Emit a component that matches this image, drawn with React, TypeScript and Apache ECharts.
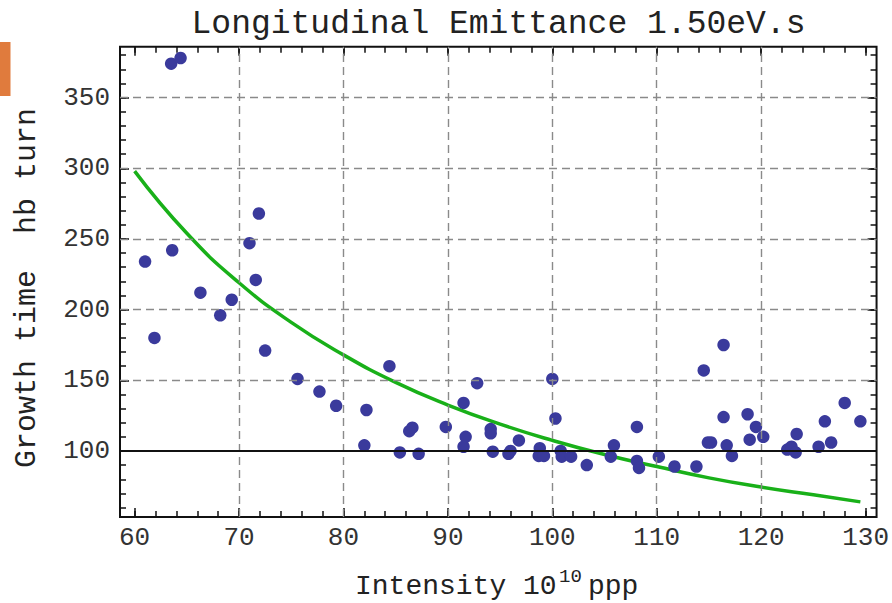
import { useEffect, useRef } from 'react';
import * as echarts from 'echarts';

// Measured beam intensity (10^10 ppp) and instability growth time (hb turns)
const intensity = [
  61.0, 61.9, 63.5, 64.4, 63.6, 66.3, 68.2, 69.3, 71.0, 71.6, 71.9, 72.5,
  75.6, 77.7, 79.3, 82.2, 82.0, 84.4, 85.4, 86.3, 86.6, 87.2, 89.8, 91.5,
  91.5, 91.7, 92.8, 94.1, 94.1, 94.3, 95.8, 96.0, 96.8, 98.8, 98.7, 99.2,
  100.0, 100.3, 100.8, 100.9, 101.8, 103.3, 105.6, 105.9, 108.1, 108.1, 108.3,
  110.2, 111.7, 113.8, 114.5, 114.9, 115.2, 116.4, 116.4, 116.7, 117.2, 118.7,
  118.9, 119.5, 120.2, 122.5, 122.9, 123.3, 123.4, 125.5, 126.1, 126.7, 128.0,
  129.5,
];
const growthTime = [
  234, 180, 374, 378, 242, 212, 196, 207, 247, 221, 268, 171,
  151, 142, 132, 129, 104, 160, 99, 114, 116.5, 98, 117, 134,
  103, 110, 148, 115.5, 112.5, 99.5, 98, 100, 107.5, 102, 96.5, 96.5,
  151, 123, 100, 96, 96, 90, 96, 104, 117, 93, 88,
  96, 89, 89, 157, 106, 106, 175, 124, 104, 96.5, 126,
  108, 117, 110, 101, 103, 99, 112, 103, 121, 106, 134,
  121,
];

// Fitted growth-time curve
const fitIntensity = [60, 65, 70, 75, 80, 85, 90, 95, 100, 105, 110, 115, 120, 125, 129.5];
const fitGrowth = [298, 254, 219, 191, 168, 148.5, 132.5, 119, 107.5, 97.5, 89, 81, 74.5, 69, 64];

// Axis ticks, labels and grid lines
const xTickLabels = [60, 70, 80, 90, 100, 110, 120, 130];
const xMinorTicks = [
  60, 62, 64, 66, 68, 70, 72, 74, 76, 78, 80, 82, 84, 86, 88, 90, 92, 94, 96, 98,
  100, 102, 104, 106, 108, 110, 112, 114, 116, 118, 120, 122, 124, 126, 128, 130,
];
const yTickLabels = [100, 150, 200, 250, 300, 350];
const yMinorTicks = [
  60, 70, 80, 90, 100, 110, 120, 130, 140, 150, 160, 170, 180, 190, 200, 210,
  220, 230, 240, 250, 260, 270, 280, 290, 300, 310, 320, 330, 340, 350, 360, 370, 380,
];
const xGridLines = [70, 80, 90, 100, 110, 120];
const yGridLines = [150, 200, 250, 300, 350];
const referenceLevel = 100;

const X_MIN = 58.6;
const X_MAX = 131.05;
const Y_MIN = 53.3;
const Y_MAX = 386;

const MONO = '"Liberation Mono", "Courier New", monospace';

function tickAxis(
  position: string,
  min: number,
  max: number,
  ticks: number[],
  length: number,
  labels: number[] | null,
  labelMargin: number,
) {
  return {
    type: 'value',
    position,
    min,
    max,
    axisLine: { show: false },
    splitLine: { show: false },
    axisTick: {
      show: true,
      inside: true,
      length,
      customValues: ticks,
      lineStyle: { color: '#111', width: 1.5 },
    },
    axisLabel: labels
      ? {
          show: true,
          customValues: labels,
          fontFamily: MONO,
          fontSize: 26,
          color: '#333',
          margin: labelMargin,
        }
      : { show: false },
  };
}

export default function App() {
  const ref = useRef<HTMLDivElement>(null);

  useEffect(() => {
    if (!ref.current) return;
    const chart = echarts.init(ref.current, null, { renderer: 'svg' });

    const points = intensity.map((x, i) => [x, growthTime[i]]);
    const fit = fitIntensity.map((x, i) => [x, fitGrowth[i]]);

    chart.setOption({
      animation: false,
      backgroundColor: '#fff',
      grid: {
        left: 120,
        right: 15,
        top: 46.7,
        bottom: 86,
        show: true,
        borderColor: '#111',
        borderWidth: 2,
        backgroundColor: 'transparent',
        containLabel: false,
      },
      xAxis: [
        tickAxis('bottom', X_MIN, X_MAX, xTickLabels, 9, xTickLabels, 8),
        tickAxis('bottom', X_MIN, X_MAX, xMinorTicks, 6, null, 0),
        tickAxis('top', X_MIN, X_MAX, xTickLabels, 9, null, 0),
        tickAxis('top', X_MIN, X_MAX, xMinorTicks, 6, null, 0),
      ],
      yAxis: [
        tickAxis('left', Y_MIN, Y_MAX, yTickLabels, 9, yTickLabels, 10),
        tickAxis('left', Y_MIN, Y_MAX, yMinorTicks, 6, null, 0),
        tickAxis('right', Y_MIN, Y_MAX, yTickLabels, 9, null, 0),
        tickAxis('right', Y_MIN, Y_MAX, yMinorTicks, 6, null, 0),
      ],
      graphic: [
        {
          type: 'rect',
          shape: { x: 0, y: 42, width: 10.5, height: 54 },
          style: { fill: '#e07b3d' },
        },
        {
          type: 'text',
          x: 498.5,
          y: 24,
          style: {
            text: 'Longitudinal Emittance 1.50eV.s',
            fontFamily: MONO,
            fontSize: 33,
            fill: '#222',
            align: 'center',
            verticalAlign: 'middle',
          },
        },
        {
          type: 'text',
          x: 27,
          y: 288,
          rotation: Math.PI / 2,
          style: {
            text: 'Growth time  hb turn',
            fontFamily: MONO,
            fontSize: 30,
            fill: '#222',
            align: 'center',
            verticalAlign: 'middle',
          },
        },
        {
          type: 'text',
          x: 355,
          y: 586,
          style: {
            text: 'Intensity 10',
            fontFamily: MONO,
            fontSize: 28,
            fill: '#222',
            align: 'left',
            verticalAlign: 'middle',
          },
        },
        {
          type: 'text',
          x: 559,
          y: 577,
          style: {
            text: '10',
            fontFamily: MONO,
            fontSize: 19,
            fill: '#222',
            align: 'left',
            verticalAlign: 'middle',
          },
        },
        {
          type: 'text',
          x: 588,
          y: 586,
          style: {
            text: 'ppp',
            fontFamily: MONO,
            fontSize: 28,
            fill: '#222',
            align: 'left',
            verticalAlign: 'middle',
          },
        },
      ],
      series: [
        {
          type: 'line',
          name: 'grid',
          data: [],
          z: 1,
          silent: true,
          markLine: {
            silent: true,
            symbol: 'none',
            label: { show: false },
            lineStyle: { type: [8, 5], color: '#8a8a8a', width: 1.4 },
            data: [
              ...xGridLines.map((v) => ({ xAxis: v })),
              ...yGridLines.map((v) => ({ yAxis: v })),
              {
                yAxis: referenceLevel,
                lineStyle: { type: 'solid', color: '#111', width: 1.8 },
              },
            ],
          },
        },
        {
          type: 'line',
          name: 'fit',
          data: fit,
          z: 2,
          smooth: true,
          showSymbol: false,
          silent: true,
          lineStyle: { color: '#19b019', width: 3.5 },
        },
        {
          type: 'scatter',
          name: 'measurements',
          data: points,
          z: 3,
          symbol: 'circle',
          symbolSize: 12.5,
          itemStyle: { color: '#3a3a9c', opacity: 1 },
        },
      ],
    });

    return () => chart.dispose();
  }, []);

  return <div ref={ref} style={{ width: 892, height: 603, position: 'absolute', left: 0, top: 0 }} />;
}
